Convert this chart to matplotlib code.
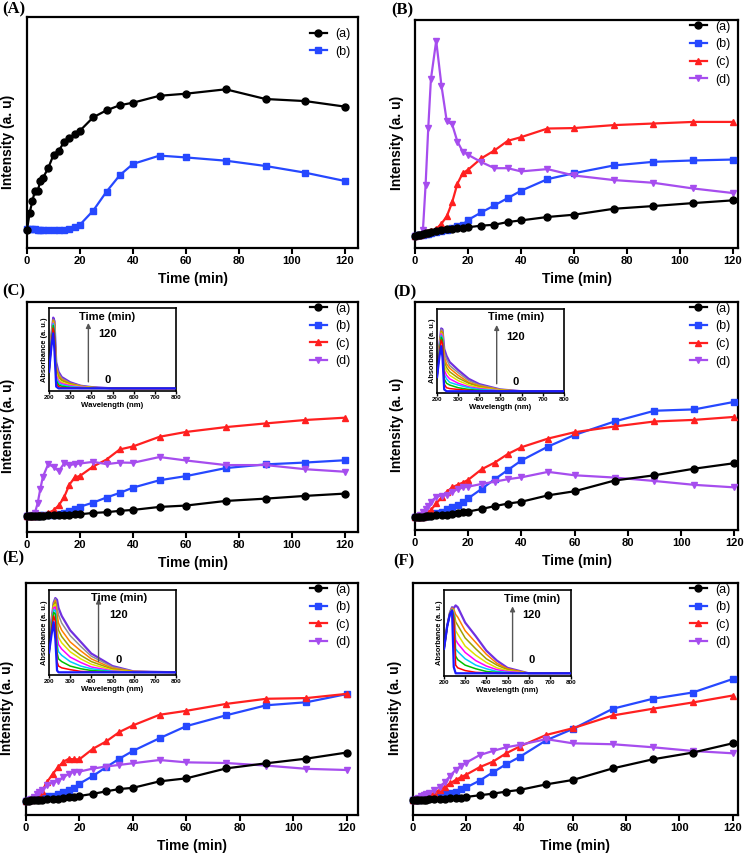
import matplotlib
matplotlib.use("Agg")
import matplotlib.pyplot as plt

# ---------------- data ----------------
t = [0, 1, 2, 3, 4, 5, 6, 8, 10, 12, 14, 16, 18, 20, 25, 30, 35, 40, 50, 60, 75, 90, 105, 120]

A_a = [7.9, 15.2, 20.2, 24.8, 24.5, 28.9, 30.3, 34.6, 40.3, 42.1, 45.9, 47.6, 49.4, 50.8, 56.6, 59.6, 61.8, 62.9, 65.9, 66.8, 68.7, 64.5, 63.6, 61.2]
A_b = [8.2, 8.2, 8.2, 8.1, 8.0, 7.9, 7.9, 7.8, 7.8, 7.8, 7.9, 8.1, 9.2, 10.1, 16.2, 24.4, 31.5, 36.4, 40.0, 39.2, 37.8, 35.5, 32.6, 29.0]

B_a = [5.4, 5.7, 5.8, 6.1, 6.6, 6.7, 7.0, 7.4, 7.9, 8.2, 8.5, 8.8, 8.9, 9.1, 9.8, 10.2, 11.4, 12.1, 13.6, 14.6, 17.2, 18.4, 19.7, 20.9]
B_b = [5.4, 5.5, 5.7, 5.8, 6.0, 6.3, 6.6, 7.0, 7.6, 8.0, 8.8, 9.5, 10.2, 12.3, 15.6, 18.7, 21.9, 25.1, 30.2, 32.8, 36.2, 37.8, 38.4, 38.8]
B_c = [5.4, 5.6, 5.8, 6.1, 6.6, 7.2, 7.6, 8.3, 10.7, 13.9, 20.0, 28.2, 32.8, 34.3, 39.3, 42.8, 47.0, 48.6, 52.4, 52.6, 53.9, 54.6, 55.3, 55.3]
B_d = [5.4, 5.4, 5.7, 8.0, 27.7, 52.6, 74.0, 90.9, 71.1, 55.5, 54.3, 46.7, 42.3, 40.9, 37.7, 35.0, 35.0, 33.6, 34.6, 31.8, 29.8, 28.6, 26.1, 24.1]

C_a = [7.0, 7.0, 7.0, 7.0, 7.1, 7.1, 7.1, 7.3, 7.3, 7.4, 7.6, 7.6, 7.7, 7.7, 8.3, 8.6, 9.2, 9.6, 10.9, 11.5, 13.5, 14.5, 15.7, 16.7]
C_b = [7.0, 7.0, 7.0, 7.1, 7.1, 7.3, 7.3, 7.4, 7.6, 7.8, 8.4, 9.0, 9.9, 11.0, 12.8, 15.0, 17.0, 19.3, 22.5, 24.3, 27.8, 29.4, 30.2, 31.2]
C_c = [7.0, 7.0, 7.1, 7.1, 7.3, 7.4, 7.6, 8.3, 9.4, 11.6, 15.1, 20.6, 23.7, 24.4, 28.5, 31.5, 35.9, 37.2, 41.4, 43.5, 45.6, 47.2, 48.7, 49.7]
C_d = [7.0, 7.0, 7.3, 8.4, 12.4, 18.6, 24.0, 29.5, 28.3, 26.5, 29.8, 29.1, 29.5, 29.8, 30.5, 29.5, 30.2, 30.1, 32.6, 31.1, 29.1, 29.1, 27.3, 26.2]

D_a = [5.6, 5.6, 5.7, 5.9, 6.0, 6.1, 6.3, 6.4, 6.6, 6.7, 7.0, 7.5, 7.8, 8.1, 9.2, 10.5, 11.6, 12.4, 15.2, 17.0, 21.7, 24.0, 26.9, 29.3]
D_b = [5.6, 5.6, 5.7, 5.9, 6.0, 6.3, 6.6, 7.3, 8.1, 9.2, 10.2, 11.0, 12.4, 13.9, 18.0, 22.3, 26.4, 30.5, 36.6, 41.7, 47.6, 52.3, 52.9, 56.2]
D_c = [5.6, 5.7, 5.8, 5.9, 6.6, 7.5, 8.8, 11.7, 14.3, 16.8, 18.7, 19.8, 20.8, 22.0, 26.6, 29.6, 33.4, 36.3, 40.1, 42.9, 45.4, 47.6, 48.3, 49.6]
D_d = [5.6, 5.9, 6.6, 7.8, 9.2, 10.7, 12.4, 14.6, 15.1, 15.4, 16.5, 18.0, 18.7, 19.0, 20.2, 21.2, 22.3, 23.1, 25.5, 24.0, 23.0, 21.5, 19.8, 18.7]

E_a = [6.2, 6.2, 6.3, 6.5, 6.5, 6.6, 6.6, 6.8, 6.9, 7.1, 7.3, 7.6, 7.9, 8.2, 9.1, 10.2, 11.2, 11.7, 14.5, 15.8, 20.1, 22.3, 24.3, 26.9]
E_b = [6.2, 6.3, 6.5, 6.8, 6.9, 7.2, 7.5, 8.1, 8.3, 8.9, 10.1, 10.8, 11.8, 13.5, 16.8, 20.6, 24.3, 27.6, 33.1, 38.3, 43.0, 47.3, 48.6, 52.1]
E_c = [6.2, 6.3, 6.5, 7.1, 7.6, 9.1, 10.4, 14.4, 17.7, 20.6, 23.0, 24.2, 24.0, 24.0, 28.5, 31.7, 35.8, 38.6, 43.2, 44.9, 47.9, 50.1, 50.4, 52.2]
E_d = [6.2, 6.5, 7.1, 7.9, 8.9, 9.8, 10.8, 12.9, 14.0, 14.7, 16.3, 17.7, 18.7, 18.7, 20.0, 20.9, 21.6, 22.3, 23.7, 22.7, 22.4, 21.3, 19.9, 19.4]

F_a = [6.5, 6.5, 6.5, 6.6, 6.6, 6.6, 6.8, 6.8, 6.9, 7.1, 7.2, 7.3, 7.5, 7.8, 8.5, 9.2, 10.1, 10.8, 13.2, 15.1, 20.1, 24.0, 26.9, 30.9]
F_b = [6.5, 6.5, 6.6, 6.8, 6.9, 7.1, 7.3, 7.9, 8.6, 9.2, 9.6, 10.1, 11.2, 11.9, 14.8, 18.4, 21.9, 25.0, 32.2, 37.1, 45.8, 50.1, 52.8, 58.6]
F_c = [6.5, 6.5, 6.8, 7.1, 7.6, 7.9, 8.3, 9.6, 10.8, 12.2, 13.7, 15.1, 16.3, 17.4, 20.6, 23.0, 26.6, 29.5, 34.5, 37.4, 42.9, 45.8, 48.5, 51.5]
F_d = [6.5, 6.9, 7.5, 8.1, 8.6, 9.1, 9.6, 10.8, 12.2, 14.2, 17.0, 19.4, 21.2, 22.6, 25.8, 27.6, 29.2, 30.2, 32.7, 30.9, 30.5, 29.2, 27.6, 26.6]

series_labels = ["(a)", "(b)", "(c)", "(d)"]
panel_letters = ["(A)", "(B)", "(C)", "(D)", "(E)", "(F)"]
x_ticks = [0, 20, 40, 60, 80, 100, 120]
inset_ticks = [200, 300, 400, 500, 600, 700, 800]

# inset spectra (absorbance, a.u.)
wl_C = [200, 212, 220, 226, 234, 245, 260, 300, 350, 400, 500, 600, 800]
spec_C = [
    [0.22, 0.52, 0.66, 0.45, 0.05, 0.03, 0.03, 0.03, 0.03, 0.03, 0.03, 0.03, 0.03],
    [0.22, 0.56, 0.72, 0.62, 0.09, 0.05, 0.04, 0.035, 0.03, 0.03, 0.03, 0.03, 0.03],
    [0.22, 0.58, 0.75, 0.66, 0.12, 0.07, 0.055, 0.04, 0.035, 0.03, 0.03, 0.03, 0.03],
    [0.22, 0.60, 0.77, 0.70, 0.15, 0.09, 0.07, 0.05, 0.04, 0.035, 0.03, 0.03, 0.03],
    [0.22, 0.61, 0.78, 0.72, 0.18, 0.11, 0.085, 0.06, 0.045, 0.035, 0.03, 0.025, 0.025],
    [0.22, 0.62, 0.79, 0.74, 0.21, 0.13, 0.10, 0.07, 0.05, 0.04, 0.03, 0.025, 0.025],
    [0.22, 0.63, 0.80, 0.76, 0.24, 0.16, 0.12, 0.08, 0.05, 0.04, 0.03, 0.025, 0.025],
    [0.22, 0.64, 0.81, 0.78, 0.27, 0.18, 0.13, 0.085, 0.055, 0.04, 0.03, 0.025, 0.025],
    [0.22, 0.65, 0.82, 0.79, 0.30, 0.20, 0.145, 0.09, 0.06, 0.04, 0.03, 0.025, 0.025],
    [0.22, 0.66, 0.84, 0.80, 0.33, 0.22, 0.16, 0.10, 0.06, 0.045, 0.03, 0.025, 0.025],
]
wl_D = [200, 212, 220, 226, 234, 245, 260, 300, 350, 400, 500, 600, 800]
spec_D = [
    [0.18, 0.42, 0.53, 0.40, 0.04, 0.02, 0.02, 0.02, 0.02, 0.02, 0.02, 0.02, 0.02],
    [0.18, 0.46, 0.60, 0.56, 0.10, 0.06, 0.05, 0.04, 0.03, 0.025, 0.02, 0.02, 0.02],
    [0.18, 0.48, 0.63, 0.60, 0.16, 0.11, 0.09, 0.06, 0.04, 0.03, 0.02, 0.02, 0.02],
    [0.18, 0.50, 0.65, 0.62, 0.21, 0.16, 0.12, 0.09, 0.06, 0.04, 0.025, 0.02, 0.02],
    [0.18, 0.51, 0.67, 0.64, 0.26, 0.20, 0.16, 0.11, 0.07, 0.05, 0.025, 0.02, 0.02],
    [0.18, 0.52, 0.68, 0.66, 0.31, 0.25, 0.20, 0.14, 0.09, 0.06, 0.03, 0.02, 0.02],
    [0.18, 0.53, 0.69, 0.68, 0.36, 0.29, 0.24, 0.17, 0.11, 0.07, 0.03, 0.02, 0.02],
    [0.18, 0.54, 0.70, 0.69, 0.41, 0.33, 0.28, 0.20, 0.12, 0.08, 0.035, 0.02, 0.02],
    [0.18, 0.55, 0.72, 0.70, 0.46, 0.38, 0.31, 0.23, 0.14, 0.09, 0.04, 0.02, 0.02],
    [0.18, 0.56, 0.73, 0.72, 0.50, 0.42, 0.35, 0.26, 0.16, 0.10, 0.04, 0.02, 0.02],
]
wl_E = [200, 212, 222, 230, 238, 245, 260, 300, 350, 400, 500, 600, 800]
spec_E = [
    [0.25, 0.45, 0.59, 0.40, 0.05, 0.03, 0.03, 0.03, 0.03, 0.03, 0.03, 0.03, 0.03],
    [0.25, 0.50, 0.66, 0.60, 0.15, 0.10, 0.08, 0.06, 0.04, 0.035, 0.03, 0.03, 0.03],
    [0.25, 0.53, 0.70, 0.68, 0.25, 0.18, 0.15, 0.10, 0.07, 0.05, 0.035, 0.03, 0.03],
    [0.25, 0.55, 0.73, 0.72, 0.35, 0.26, 0.22, 0.15, 0.10, 0.07, 0.04, 0.03, 0.03],
    [0.25, 0.57, 0.75, 0.76, 0.44, 0.34, 0.29, 0.20, 0.14, 0.09, 0.045, 0.03, 0.03],
    [0.25, 0.58, 0.77, 0.79, 0.52, 0.42, 0.36, 0.26, 0.18, 0.12, 0.055, 0.035, 0.03],
    [0.25, 0.59, 0.78, 0.81, 0.60, 0.50, 0.43, 0.31, 0.22, 0.15, 0.065, 0.035, 0.03],
    [0.25, 0.60, 0.79, 0.83, 0.68, 0.58, 0.50, 0.37, 0.27, 0.18, 0.075, 0.04, 0.03],
    [0.25, 0.61, 0.80, 0.85, 0.76, 0.67, 0.58, 0.44, 0.32, 0.21, 0.09, 0.04, 0.03],
    [0.25, 0.62, 0.81, 0.86, 0.84, 0.75, 0.66, 0.50, 0.37, 0.24, 0.10, 0.04, 0.03],
]
wl_F = [200, 215, 228, 238, 246, 255, 265, 300, 350, 400, 450, 500, 600, 800]
spec_F = [
    [0.30, 0.55, 0.68, 0.72, 0.10, 0.03, 0.03, 0.03, 0.03, 0.03, 0.03, 0.03, 0.03, 0.03],
    [0.30, 0.55, 0.69, 0.72, 0.62, 0.12, 0.09, 0.06, 0.04, 0.035, 0.03, 0.03, 0.03, 0.03],
    [0.30, 0.55, 0.69, 0.73, 0.66, 0.22, 0.18, 0.12, 0.08, 0.05, 0.04, 0.035, 0.03, 0.03],
    [0.30, 0.55, 0.70, 0.73, 0.68, 0.30, 0.27, 0.19, 0.12, 0.08, 0.05, 0.04, 0.03, 0.03],
    [0.30, 0.55, 0.70, 0.74, 0.70, 0.40, 0.36, 0.26, 0.17, 0.11, 0.07, 0.05, 0.03, 0.03],
    [0.30, 0.55, 0.70, 0.74, 0.72, 0.50, 0.46, 0.33, 0.23, 0.15, 0.09, 0.06, 0.03, 0.03],
    [0.30, 0.55, 0.70, 0.75, 0.73, 0.60, 0.56, 0.42, 0.30, 0.19, 0.12, 0.07, 0.03, 0.03],
    [0.30, 0.55, 0.70, 0.75, 0.74, 0.68, 0.65, 0.50, 0.37, 0.24, 0.14, 0.08, 0.03, 0.03],
    [0.30, 0.55, 0.70, 0.76, 0.75, 0.78, 0.76, 0.59, 0.44, 0.28, 0.17, 0.09, 0.03, 0.03],
]

# ---------------- style ----------------
plt.rcParams['font.family'] = ['Liberation Sans', 'DejaVu Sans']
colors = ['#000000', '#2648ff', '#ff2020', '#a64dee']
markers = ['o', 's', '^', 'v']
spec_colors = ['#1a1aff', '#000000', '#ff0000', '#00c000', '#00c8ff', '#ff00ff',
               '#e0e000', '#a0a000', '#ff8000', '#909090', '#7030e0']

W, H = 752.0, 856.0
def fr(l, t_, r, b):
    return [l / W, 1 - b / H, (r - l) / W, (b - t_) / H]

panels = [
    dict(rect=fr(27, 17, 358, 248), xmax=124.9, data=[A_a, A_b], leg=(1.0, 0.985),
         letter=(2, 9), ylab=(-0.037, 0.46), inset=None),
    dict(rect=fr(415, 20, 738, 248), xmax=121.9, data=[B_a, B_b, B_c, B_d], leg=(1.0, 1.03),
         letter=(391, 10), ylab=(-0.035, 0.46), inset=None),
    dict(rect=fr(27, 302, 358, 532), xmax=124.9, data=[C_a, C_b, C_c, C_d], leg=(1.0, 1.03),
         letter=(2, 291), ylab=(-0.037, 0.46),
         inset=(fr(49, 308, 176, 391), wl_C, spec_C, 0.31, 0.46, (0.11, 0.82), 0.89, 0.69, 0.13)),
    dict(rect=fr(415, 302, 738, 530), xmax=121.4, data=[D_a, D_b, D_c, D_d], leg=(1.0, 1.03),
         letter=(393, 292), ylab=(-0.035, 0.46),
         inset=(fr(437, 309, 564, 393), wl_D, spec_D, 0.47, 0.62, (0.11, 0.81), 0.90, 0.67, 0.13)),
    dict(rect=fr(26, 583, 358, 815), xmax=124.3, data=[E_a, E_b, E_c, E_d], leg=(1.0, 1.03),
         letter=(2, 558), ylab=(-0.037, 0.46),
         inset=(fr(49, 590, 176, 675), wl_E, spec_E, 0.39, 0.55, (0.16, 0.90), 0.91, 0.71, 0.18)),
    dict(rect=fr(413, 583, 738, 815), xmax=122.0, data=[F_a, F_b, F_c, F_d], leg=(1.0, 1.03),
         letter=(393, 561), ylab=(-0.035, 0.46),
         inset=(fr(444, 590, 571, 676), wl_F, spec_F, 0.54, 0.69, (0.17, 0.81), 0.90, 0.71, 0.19)),
]

fig = plt.figure(figsize=(7.52, 8.56), dpi=100)

for i, p in enumerate(panels):
    ax = fig.add_axes(p['rect'])
    for j, ys in enumerate(p['data']):
        ax.plot(t, ys, color=colors[j], marker=markers[j], markersize=5, lw=1.6,
                label=series_labels[j], clip_on=False, zorder=3 + (j == 0))
    ax.set_xlim(0, p['xmax'])
    ax.set_ylim(0, 100)
    ax.set_yticks([])
    ax.set_xticks(x_ticks)
    ax.tick_params(axis='x', direction='out', length=4, width=1.5, labelsize=8, pad=2)
    for lab in ax.get_xticklabels():
        lab.set_fontweight('bold')
    for s in ax.spines.values():
        s.set_linewidth(1.6)
    ax.set_xlabel('Time (min)', fontsize=10, fontweight='bold', labelpad=4)
    ax.set_ylabel('Intensity (a. u)', fontsize=10, fontweight='bold')
    ax.yaxis.set_label_coords(*p['ylab'])
    ax.legend(loc='upper right', bbox_to_anchor=p['leg'], frameon=False, fontsize=9,
              handlelength=1.3, handletextpad=0.7, labelspacing=0.45, numpoints=1,
              borderaxespad=0.4, borderpad=0.2)
    lx, ly = p['letter']
    fig.text(lx / W, 1 - ly / H, panel_letters[i], family='Liberation Serif',
             fontweight='bold', fontsize=12, ha='left', va='center')

    if p['inset'] is not None:
        rect, wl, spec, arx, tx, (ay0, ay1), ty_time, ty120, ty0 = p['inset']
        ia = fig.add_axes(rect)
        n = len(spec)
        for k in range(n - 1, -1, -1):
            c = spec_colors[0] if k == 0 else spec_colors[(k % (len(spec_colors) - 1)) + 1]
            if k == n - 1:
                c = spec_colors[-1]
            ia.plot(wl, spec[k], color=c, lw=1.6 if k in (0, n - 1) else 1.1, zorder=2 + (k == 0))
        ia.set_xlim(200, 800)
        ia.set_ylim(0, 0.95)
        ia.set_yticks([])
        ia.set_xticks(inset_ticks)
        ia.tick_params(axis='x', direction='out', length=2, width=1, labelsize=4.5, pad=1)
        for lab in ia.get_xticklabels():
            lab.set_fontweight('bold')
        for s in ia.spines.values():
            s.set_linewidth(1.2)
        ia.set_xlabel('Wavelength (nm)', fontsize=5.6, fontweight='bold', labelpad=1.5)
        ia.set_ylabel('Absorbance (a. u.)', fontsize=5.3, fontweight='bold', labelpad=1)
        ia.annotate('', xy=(arx, ay1), xytext=(arx, ay0), xycoords='axes fraction',
                    arrowprops=dict(arrowstyle='-|>', color='#555555', lw=1.0,
                                    mutation_scale=7, shrinkA=0, shrinkB=0))
        ia.text(tx, ty_time, 'Time (min)', transform=ia.transAxes, fontsize=8,
                fontweight='bold', ha='center', va='center')
        ia.text(tx, ty120, '120', transform=ia.transAxes, fontsize=8,
                fontweight='bold', ha='center', va='center')
        ia.text(tx, ty0, '0', transform=ia.transAxes, fontsize=8,
                fontweight='bold', ha='center', va='center')

fig.savefig('out.png', dpi=100)
